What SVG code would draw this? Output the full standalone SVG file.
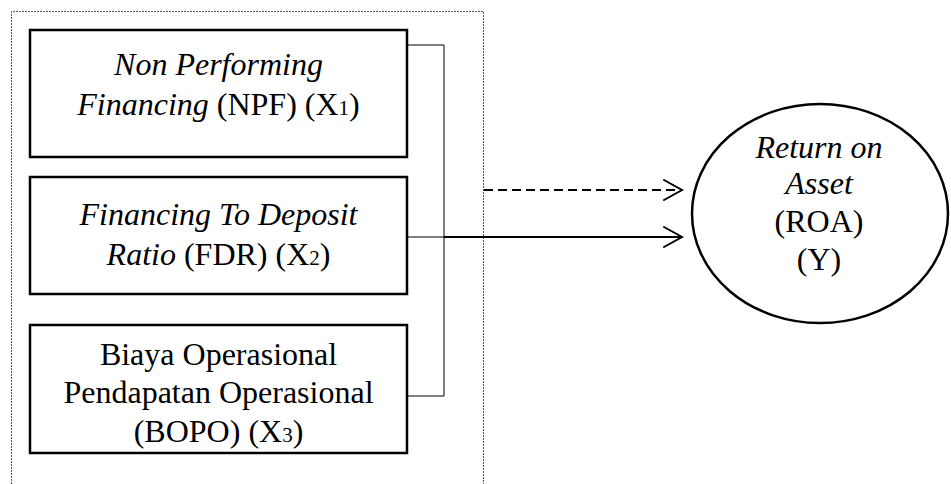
<svg xmlns="http://www.w3.org/2000/svg" width="951" height="484" viewBox="0 0 951 484">
<defs>
<style>
.frame{fill:none;stroke:#555;stroke-width:1;stroke-dasharray:2 1}
.box{fill:#fff;stroke:#000;stroke-width:2.5}
.thin{fill:none;stroke:#000;stroke-width:1}
.thick{fill:none;stroke:#000;stroke-width:2}
.dash{fill:none;stroke:#000;stroke-width:2;stroke-dasharray:9 5}
.head{fill:none;stroke:#000;stroke-width:2;stroke-linecap:round;stroke-linejoin:miter}
.t{font-size:32px;fill:#000;text-anchor:middle}
.i{font-style:italic}
.sub{font-size:21px}
</style>
</defs>
<path class="frame" d="M11.5,490 V11.5 H483.5 V490"/>
<g id="connectors">
<path class="thin" d="M407,45 H444 V396 H407"/>
<path class="thin" d="M407,237 H444"/>
<path class="thick" d="M444,237 H681"/>
<path class="head" d="M664,227 L682,237 L664,247"/>
<path class="dash" d="M484,190 H680"/>
<path class="head" d="M664,180 L682,190 L664,200"/>
</g>
<g font-family="Liberation Serif, Times New Roman, serif">
<g id="npf">
<rect class="box" x="30" y="30" width="377" height="127"/>
<text class="t" x="218.5" y="75"><tspan class="i">Non Performing</tspan></text>
<text class="t" x="218.5" y="115"><tspan class="i">Financing</tspan> (NPF) (X<tspan class="sub">1</tspan>)</text>
</g>
<g id="fdr">
<rect class="box" x="30" y="177" width="377" height="117"/>
<text class="t" x="218.5" y="225"><tspan class="i">Financing To Deposit</tspan></text>
<text class="t" x="218.5" y="265"><tspan class="i">Ratio</tspan> (FDR) (X<tspan class="sub">2</tspan>)</text>
</g>
<g id="bopo">
<rect class="box" x="30" y="325" width="377" height="128"/>
<text class="t" x="218.5" y="365">Biaya Operasional</text>
<text class="t" x="218.5" y="403">Pendapatan Operasional</text>
<text class="t" x="218.5" y="442">(BOPO) (X<tspan class="sub">3</tspan>)</text>
</g>
<g id="roa">
<ellipse cx="820" cy="213.5" rx="128" ry="109.5" fill="#fff" stroke="#000" stroke-width="2.5"/>
<text class="t i" x="819" y="158">Return on</text>
<text class="t i" x="819" y="194">Asset</text>
<text class="t" x="819" y="232">(ROA)</text>
<text class="t" x="819" y="270">(Y)</text>
</g>
</g>
</svg>
